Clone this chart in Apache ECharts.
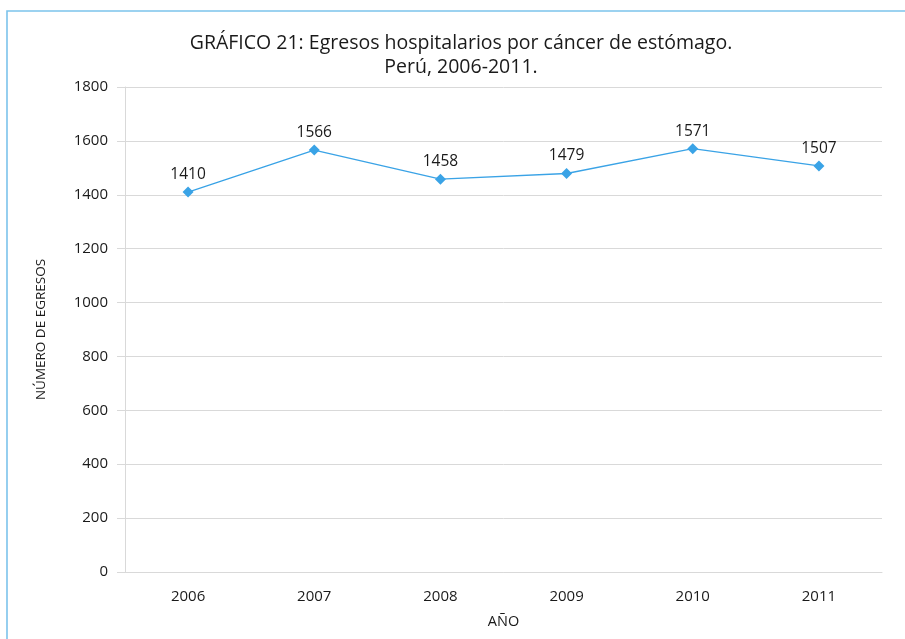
<!DOCTYPE html>
<html><head><meta charset="utf-8">
<script src="https://cdn.jsdelivr.net/npm/echarts@6/dist/echarts.min.js"></script>
<style>html,body{margin:0;padding:0;background:#fff}#c{width:905px;height:639px}</style>
</head><body><div id="c"></div>
<script>
var categories = ['2006','2007','2008','2009','2010','2011'];
var egresos = [1410, 1566, 1458, 1479, 1571, 1507];
var titleLines = ['GRÁFICO 21: Egresos hospitalarios por cáncer de estómago.', 'Perú, 2006-2011.'];
var yAxisName = 'NÚMERO DE EGRESOS';
var xAxisName = 'AÑO';

var font = '"Open Sans", "Noto Sans", sans-serif';
var chart = echarts.init(document.getElementById('c'), null, {renderer: 'canvas'});
chart.setOption({
  animation: false,
  textStyle: {fontFamily: font},
  graphic: [{
    type: 'polyline',
    shape: {points: [[7, 650], [7, 11], [910, 11]]},
    style: {stroke: '#7cc3ec', lineWidth: 1.6, fill: null}
  }],
  title: {
    text: titleLines.join('\n'),
    left: 456, top: 26, textAlign: 'center',
    textStyle: {fontFamily: font, fontSize: 19.5, fontWeight: 'normal', color: '#1a1a1a', lineHeight: 24}
  },
  grid: {left: 125, right: 23, top: 87, bottom: 67, containLabel: false},
  xAxis: {
    type: 'category', data: categories, boundaryGap: true,
    name: xAxisName, nameLocation: 'middle', nameGap: 42,
    nameTextStyle: {fontFamily: font, fontSize: 14.5, color: '#1a1a1a'},
    axisLine: {show: true, lineStyle: {color: '#d9d9d9', width: 1}},
    axisTick: {show: false},
    axisLabel: {fontFamily: font, fontSize: 15, color: '#1a1a1a', margin: 17}
  },
  yAxis: {
    type: 'value', min: 0, max: 1800, interval: 200,
    name: yAxisName, nameLocation: 'middle', nameGap: 77, nameRotate: 90,
    nameTextStyle: {fontFamily: font, fontSize: 13.5, color: '#1a1a1a'},
    axisLine: {show: true, lineStyle: {color: '#d9d9d9', width: 1}},
    axisTick: {show: true, length: 8, lineStyle: {color: '#d9d9d9'}},
    splitLine: {show: true, lineStyle: {color: '#d9d9d9', width: 1}},
    axisLabel: {fontFamily: font, fontSize: 15, color: '#1a1a1a', margin: 17, formatter: function (v) { return String(v); }}
  },
  series: [{
    type: 'line', data: egresos,
    symbol: 'diamond', symbolSize: 11,
    itemStyle: {color: '#3aa3e6'},
    lineStyle: {color: '#3aa3e6', width: 1.3},
    label: {show: true, position: 'top', distance: 4, fontFamily: font, fontSize: 15.5, color: '#1a1a1a'}
  }]
});
</script></body></html>
